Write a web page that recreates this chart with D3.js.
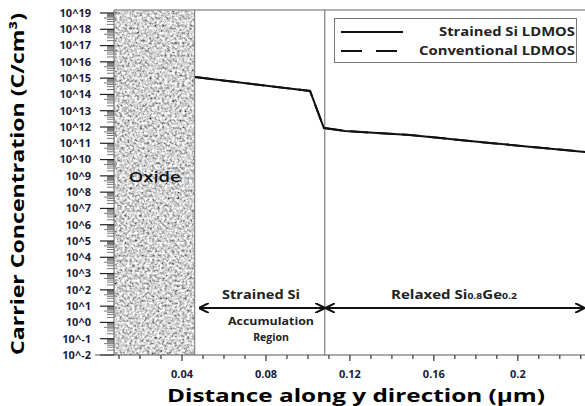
<!DOCTYPE html>
<html>
<head>
<meta charset="utf-8">
<script src="https://cdn.jsdelivr.net/npm/d3@7"></script>
<style>
  body { margin: 0; background: #fff; }
  text { font-family: "Open Sans", "DejaVu Sans", sans-serif; }
</style>
</head>
<body>
<div id="chart"></div>
<script>
// data
const distance = [0.0462, 0.101, 0.1076, 0.1176, 0.1486, 0.1867, 0.232];
const strainedSi = [1.17e15, 1.62e14, 8.7e11, 5.75e11, 3.2e11, 1.05e11, 2.95e10];
const conventional = [1.17e15, 1.62e14, 8.7e11, 5.75e11, 3.2e11, 1.05e11, 2.95e10];
const xTicks = [0.04, 0.08, 0.12, 0.16, 0.2];
const yExps = d3.range(-2, 20);
const oxideEdge = 0.046;
const siEdge = 0.108;

const W = 585, H = 406;
const svg = d3.select("#chart").append("svg")
    .attr("width", W).attr("height", H);

const x = d3.scaleLinear().domain([0.0076, 0.232]).range([114, 585]);
const y = d3.scaleLog().domain([1e-2, 1e19]).range([355, 13]);

// oxide noise texture
const defs = svg.append("defs");
const f = defs.append("filter").attr("id", "noise")
    .attr("x", 0).attr("y", 0).attr("width", 1).attr("height", 1);
f.append("feTurbulence").attr("type", "fractalNoise")
    .attr("baseFrequency", 0.4).attr("numOctaves", 3).attr("seed", 7);
f.append("feColorMatrix").attr("type", "matrix")
    .attr("values", "1.7 0 0 0 -0.2  1.7 0 0 0 -0.2  1.7 0 0 0 -0.2  0 0 0 0 1");

svg.append("rect")
    .attr("x", x.range()[0]).attr("y", 10)
    .attr("width", x(oxideEdge) - x.range()[0])
    .attr("height", 355 - 10)
    .attr("filter", "url(#noise)");

// frame lines
svg.append("line").attr("x1", 114).attr("x2", 585).attr("y1", 10).attr("y2", 10)
    .attr("stroke", "#999").attr("stroke-width", 1.5);
[oxideEdge, siEdge].forEach(function(v) {
  svg.append("line")
    .attr("x1", x(v)).attr("x2", x(v)).attr("y1", 10).attr("y2", 355)
    .attr("stroke", "#888").attr("stroke-width", 1.3);
});

// y axis, log ticks
const ya = svg.append("g");
ya.append("line").attr("x1", 114).attr("x2", 114).attr("y1", 10).attr("y2", 355)
    .attr("stroke", "#666");
yExps.forEach(function(e) {
  const v = Math.pow(10, e);
  ya.append("line").attr("x1", 100).attr("x2", 114)
    .attr("y1", y(v)).attr("y2", y(v)).attr("stroke", "#222").attr("stroke-width", 1.2);
  ya.append("text").attr("x", 91).attr("y", y(v)).attr("dy", "0.35em")
    .attr("text-anchor", "end").attr("font-size", 11).attr("font-weight", "bold")
    .attr("fill", "#1b1b3a").text("10^" + e);
  if (e < 19) {
    d3.range(2, 10).forEach(function(m) {
      ya.append("line").attr("x1", 114 - (m === 5 ? 10 : 7)).attr("x2", 114)
        .attr("y1", y(m * v)).attr("y2", y(m * v))
        .attr("stroke", "#555").attr("stroke-width", 0.8);
    });
  }
});

// x axis
const xa = svg.append("g").attr("transform", "translate(0,355)");
xa.append("line").attr("x1", 95).attr("x2", 585).attr("stroke", "#555");
xa.selectAll(".minor").data(d3.range(1, 24).map(function(i) { return i / 100; }))
  .enter().append("line")
    .attr("x1", function(d) { return x(d); }).attr("x2", function(d) { return x(d); })
    .attr("y1", 0).attr("y2", function(d) { return xTicks.some(function(t) { return Math.abs(t - d) < 1e-9; }) ? 6 : 4; })
    .attr("stroke", "#333").attr("stroke-width", 1.2);
xa.selectAll(".lab").data(xTicks).enter().append("text")
    .attr("x", function(d) { return x(d); }).attr("y", 23)
    .attr("text-anchor", "middle").attr("font-size", 11).attr("font-weight", "bold")
    .attr("fill", "#1b1b3a").text(function(d) { return d; });

// titles
svg.append("text").attr("x", 356).attr("y", 402).attr("text-anchor", "middle")
    .attr("font-size", 17).attr("font-weight", "bold")
    .attr("textLength", 378).attr("lengthAdjust", "spacingAndGlyphs")
    .text("Distance along y direction (µm)");
svg.append("text").attr("transform", "translate(24,184) rotate(-90)")
    .attr("text-anchor", "middle").attr("font-size", 18).attr("font-weight", "bold")
    .attr("textLength", 342).attr("lengthAdjust", "spacingAndGlyphs")
    .text("Carrier Concentration (C/cm³)");

// curves
const line = d3.line()
    .x(function(d, i) { return x(distance[i]); })
    .y(function(d) { return y(d); });
svg.append("path").datum(conventional).attr("d", line)
    .attr("fill", "none").attr("stroke", "#111").attr("stroke-width", 2)
    .attr("stroke-dasharray", "18,8");
svg.append("path").datum(strainedSi).attr("d", line)
    .attr("fill", "none").attr("stroke", "#111").attr("stroke-width", 2);

// oxide label
svg.append("text").attr("x", x(0.027)).attr("y", 182).attr("text-anchor", "middle")
    .attr("font-size", 15).attr("font-weight", 600).attr("fill", "#111")
    .attr("textLength", 52).attr("lengthAdjust", "spacingAndGlyphs").text("Oxide");

// legend
const lg = svg.append("g");
lg.append("rect").attr("x", 334.5).attr("y", 18.5).attr("width", 242).attr("height", 44)
    .attr("fill", "#fff").attr("stroke", "#777");
lg.append("line").attr("x1", 341).attr("x2", 403).attr("y1", 32).attr("y2", 32)
    .attr("stroke", "#111").attr("stroke-width", 2);
lg.append("line").attr("x1", 341).attr("x2", 397).attr("y1", 51).attr("y2", 51)
    .attr("stroke", "#111").attr("stroke-width", 2).attr("stroke-dasharray", "21,14");
lg.append("text").attr("x", 575).attr("y", 32).attr("dy", "0.35em").attr("text-anchor", "end")
    .attr("font-size", 11.5).attr("font-weight", "bold").attr("fill", "#222")
    .attr("textLength", 136).attr("lengthAdjust", "spacingAndGlyphs").text("Strained Si LDMOS");
lg.append("text").attr("x", 575).attr("y", 51).attr("dy", "0.35em").attr("text-anchor", "end")
    .attr("font-size", 11.5).attr("font-weight", "bold").attr("fill", "#222")
    .attr("textLength", 156).attr("lengthAdjust", "spacingAndGlyphs").text("Conventional LDMOS");

// region arrows
defs.append("marker").attr("id", "ah").attr("viewBox", "0 0 10 10")
    .attr("refX", 9).attr("refY", 5).attr("markerWidth", 10).attr("markerHeight", 10)
    .attr("markerUnits", "userSpaceOnUse").attr("orient", "auto-start-reverse")
  .append("path").attr("d", "M0,0 L10,5 L0,10").attr("fill", "none")
    .attr("stroke", "#111").attr("stroke-width", 2);
function arrow(a, b) {
  svg.append("line").attr("x1", x(a)).attr("x2", x(b)).attr("y1", 308).attr("y2", 308)
    .attr("stroke", "#111").attr("stroke-width", 2)
    .attr("marker-start", "url(#ah)").attr("marker-end", "url(#ah)");
}
arrow(oxideEdge + 0.0025, siEdge - 0.0003);
arrow(siEdge + 0.0008, 0.2315);

svg.append("text").attr("x", 261).attr("y", 299).attr("text-anchor", "middle")
    .attr("font-size", 12.5).attr("font-weight", "bold").attr("fill", "#222")
    .attr("textLength", 78).attr("lengthAdjust", "spacingAndGlyphs").text("Strained Si");
const rt = svg.append("text").attr("x", 454).attr("y", 299).attr("text-anchor", "middle")
    .attr("font-size", 13).attr("font-weight", "bold").attr("fill", "#222")
    .attr("textLength", 126).attr("lengthAdjust", "spacingAndGlyphs");
rt.append("tspan").text("Relaxed Si");
rt.append("tspan").attr("font-size", 9).text("0.8");
rt.append("tspan").text("Ge");
rt.append("tspan").attr("font-size", 9).text("0.2");
svg.append("text").attr("x", 271).attr("y", 325).attr("text-anchor", "middle")
    .attr("font-size", 10.5).attr("font-weight", "bold").attr("fill", "#222")
    .attr("textLength", 86).attr("lengthAdjust", "spacingAndGlyphs").text("Accumulation");
svg.append("text").attr("x", 271).attr("y", 341).attr("text-anchor", "middle")
    .attr("font-size", 10.5).attr("font-weight", "bold").attr("fill", "#222").text("Region");
</script>
</body>
</html>
